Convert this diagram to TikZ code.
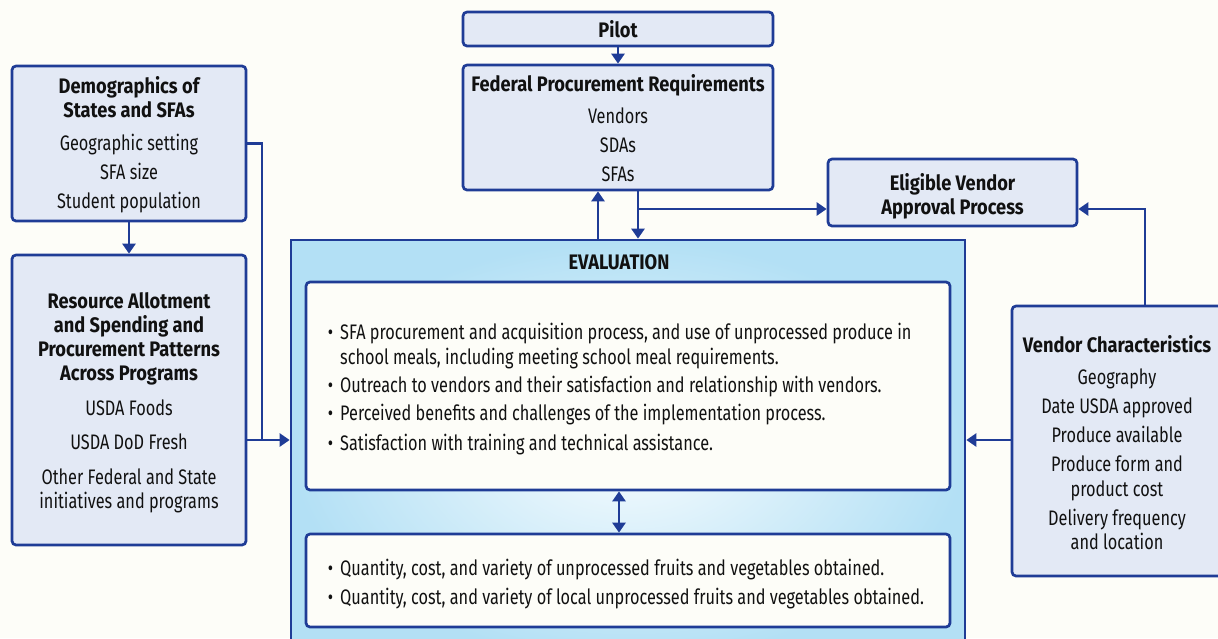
\documentclass[tikz,border=0pt]{standalone}
\usepackage{fontspec}
\setmainfont{Fira Sans}[FakeStretch=0.775]
\newfontfamily\hdfamily{Fira Sans}[FakeStretch=0.87]
\usetikzlibrary{arrows.meta,shadings}
\definecolor{myblue}{HTML}{1F3C96}
\definecolor{boxfill}{HTML}{E3E9F5}
\definecolor{bg}{HTML}{FDFDF8}
\definecolor{evout}{HTML}{B3E0F5}
\definecolor{evin}{HTML}{F7FCFE}
\definecolor{ink}{HTML}{111111}
\tikzset{
  box/.style={draw=myblue, line width=2.7pt, fill=boxfill, rounded corners=4pt, inner sep=0pt},
  wbox/.style={draw=myblue, line width=2.7pt, fill=bg, rounded corners=4pt, inner sep=0pt},
  txt/.style={anchor=base, yshift=-7pt, inner sep=0pt, text=ink, font=\fontsize{21}{24}\selectfont},
  hd/.style={txt, font=\fontsize{21}{24}\selectfont\hdfamily\bfseries},
  btxt/.style={txt, anchor=base west},
  conn/.style={draw=myblue, line width=2.7pt},
  arr/.style={conn, -{Triangle[width=13pt,length=10pt]}},
  darr/.style={conn, {Triangle[width=13pt,length=10pt]}-{Triangle[width=13pt,length=10pt]}},
}
\newcommand{\bul}[1]{\llap{\textbullet\hspace{7pt}}#1}
\begin{document}
\begin{tikzpicture}[x=1pt,y=-1pt]
\useasboundingbox[fill=bg] (0,0) rectangle (1218,638);

% Evaluation outer
\node[draw=myblue, line width=2.7pt, inner color=evin, outer color=evout, minimum width=674pt, minimum height=420pt, inner sep=0pt] (eval) at (628,450) {};
\node[hd] (evt) at (619,262) {EVALUATION};
\node[wbox, minimum width=644pt, minimum height=208pt] (in1) at (628,386) {};
\node[wbox, minimum width=644pt, minimum height=93pt] (in2) at (628,580.5) {};

\node[btxt] (e1) at (340,332) {\bul{SFA procurement and acquisition process, and use of unprocessed produce in}};
\node[btxt] (e1b) at (340,357) {school meals, including meeting school meal requirements.};
\node[btxt] (e2) at (340,385) {\bul{Outreach to vendors and their satisfaction and relationship with vendors.}};
\node[btxt] (e3) at (340,413) {\bul{Perceived benefits and challenges of the implementation process.}};
\node[btxt] (e4) at (340,443) {\bul{Satisfaction with training and technical assistance.}};
\node[btxt] (f1) at (340,568) {\bul{Quantity, cost, and variety of unprocessed fruits and vegetables obtained.}};
\node[btxt] (f2) at (340,597) {\bul{Quantity, cost, and variety of local unprocessed fruits and vegetables obtained.}};

% Demographics
\node[box, minimum width=234pt, minimum height=155pt] (demo) at (129,143.5) {};
\node[hd] (d1) at (129,86) {Demographics of};
\node[hd] (d2) at (129,110) {States and SFAs};
\node[txt] (d3) at (129,143) {Geographic setting};
\node[txt] (d4) at (129,172) {SFA size};
\node[txt] (d5) at (129,201) {Student population};

% Resource
\node[box, minimum width=234pt, minimum height=290pt] (res) at (129,400) {};
\node[hd] (r1) at (129,301) {Resource Allotment};
\node[hd] (r2) at (129,325) {and Spending and};
\node[hd] (r3) at (129,349) {Procurement Patterns};
\node[hd] (r4) at (129,373) {Across Programs};
\node[txt] (r5) at (129,408) {USDA Foods};
\node[txt] (r6) at (129,442) {USDA DoD Fresh};
\node[txt] (r7) at (129,477) {Other Federal and State};
\node[txt] (r8) at (129,501) {initiatives and programs};

% Pilot
\node[box, minimum width=310pt, minimum height=34pt] (pilot) at (618,29) {};
\node[hd] (p1) at (618,30) {Pilot};

% Federal
\node[box, minimum width=310pt, minimum height=125pt] (fed) at (618,127.5) {};
\node[hd] (fd1) at (618,84) {Federal Procurement Requirements};
\node[txt] (fd2) at (618,116) {Vendors};
\node[txt] (fd3) at (618,145) {SDAs};
\node[txt] (fd4) at (618,174) {SFAs};

% Eligible
\node[box, minimum width=249pt, minimum height=67pt] (elig) at (952.5,192.5) {};
\node[hd] (el1) at (952.5,183) {Eligible Vendor};
\node[hd] (el2) at (952.5,207) {Approval Process};

% Vendor characteristics
\node[box, minimum width=220pt, minimum height=270pt] (vend) at (1122,441) {};
\node[hd] (v0) at (1117,345) {Vendor Characteristics};
\node[txt] (v1) at (1117,377) {Geography};
\node[txt] (v2) at (1117,406) {Date USDA approved};
\node[txt] (v3) at (1117,435) {Produce available};
\node[txt] (v4) at (1117,464) {Produce form and};
\node[txt] (v5) at (1117,489) {product cost};
\node[txt] (v6) at (1117,518) {Delivery frequency};
\node[txt] (v7) at (1117,542) {and location};

% helper coordinates
\coordinate (jl) at (262,440);
\coordinate (xu) at (598,0);
\coordinate (xd) at (638,0);
\coordinate (br) at (638,209);
\coordinate (vt) at (1145,209);
\coordinate (xm) at (619,0);

% connectors
\draw[arr] (demo.south) -- (res.north);
\draw[conn] (demo.east) -| (jl);
\draw[arr] (res.east |- jl) -- (eval.west |- jl);
\draw[arr] (pilot.south) -- (fed.north);
\draw[arr] (eval.north -| xu) -- (fed.south -| xu);
\draw[arr] (fed.south -| xd) -- (eval.north -| xd);
\draw[arr] (br) -- (elig.west |- br);
\draw[arr] (vend.north -| vt) -- (vt) -- (elig.east |- vt);
\draw[arr] (vend.west |- jl) -- (eval.east |- jl);
\draw[darr] (in1.south -| xm) -- (in2.north -| xm);
\end{tikzpicture}
\end{document}
